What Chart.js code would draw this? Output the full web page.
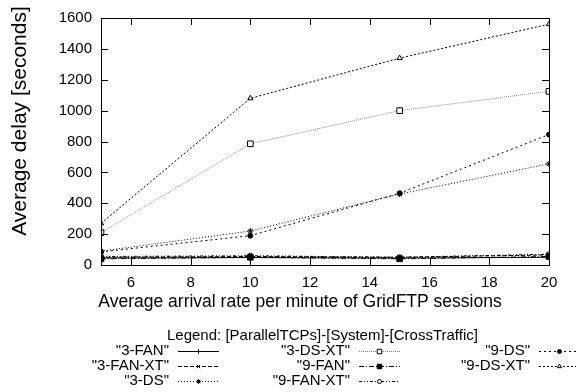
<!DOCTYPE html>
<html lang="en">

<head>
    <meta charset="UTF-8">
    <title>GridFTP delay</title>
    <script src="https://cdn.jsdelivr.net/npm/chart.js"></script>
    <style>
        body { margin: 0; background: #fff }
        #container { width: 576px; height: 392px }
    </style>
</head>

<body>
    <div id="container">
        <canvas id="mycanvas" width="576" height="392"></canvas>
    </div>
    <script>
        // data
        const rates = [5, 10, 15, 20]
        const xTicks = [6, 8, 10, 12, 14, 16, 18, 20]
        const yTicks = [0, 200, 400, 600, 800, 1000, 1200, 1400, 1600]

        const fan3 = [45, 48, 45, 50]
        const fan3xt = [50, 55, 50, 65]
        const ds3 = [90, 220, 460, 655]
        const ds3xt = [210, 785, 1000, 1125]
        const fan9 = [40, 50, 40, 55]
        const fan9xt = [55, 60, 50, 70]
        const ds9 = [85, 190, 465, 845]
        const ds9xt = [270, 1080, 1340, 1560]

        const FONT = "'Liberation Sans', Arial, sans-serif"

        // gnuplot-ish line types
        const series = [
            { label: '"3-FAN"', values: fan3, dash: [], point: 'cross', r: 3, fill: '#000', color: '#000', col: 0, row: 0 },
            { label: '"3-FAN-XT"', values: fan3xt, dash: [4, 2], point: 'crossRot', r: 3, fill: '#000', color: '#000', col: 0, row: 1 },
            { label: '"3-DS"', values: ds3, dash: [1, 2], point: 'star', r: 3, fill: '#000', color: '#000', col: 0, row: 2 },
            { label: '"3-DS-XT"', values: ds3xt, dash: [1, 1], point: 'rect', r: 4, fill: '#fff', color: '#888', col: 1, row: 0 },
            { label: '"9-FAN"', values: fan9, dash: [5, 2, 1, 2], point: 'rect', r: 4, fill: '#000', color: '#000', col: 1, row: 1 },
            { label: '"9-FAN-XT"', values: fan9xt, dash: [3, 2, 1, 2, 1, 2], point: 'circle', r: 2.5, fill: '#fff', color: '#000', col: 1, row: 2 },
            { label: '"9-DS"', values: ds9, dash: [2, 3], point: 'circle', r: 2.5, fill: '#000', color: '#000', col: 2, row: 0 },
            { label: '"9-DS-XT"', values: ds9xt, dash: [2, 2], point: 'triangle', r: 3, fill: '#fff', color: '#000', col: 2, row: 1 },
        ]

        // inward ticks on all four sides, frame and axis titles
        const frame = {
            id: 'frame',
            afterDatasetsDraw(chart) {
                const { ctx, chartArea: a, scales: { x, y } } = chart
                ctx.save()
                ctx.strokeStyle = '#000'
                ctx.lineWidth = 1
                ctx.setLineDash([])
                ctx.strokeRect(a.left + 0.5, a.top + 0.5, a.right - a.left, a.bottom - a.top)
                ctx.beginPath()
                xTicks.forEach(v => {
                    const px = Math.round(x.getPixelForValue(v)) + 0.5
                    ctx.moveTo(px, a.bottom); ctx.lineTo(px, a.bottom - 7)
                    ctx.moveTo(px, a.top); ctx.lineTo(px, a.top + 7)
                })
                yTicks.forEach(v => {
                    const py = Math.round(y.getPixelForValue(v)) + 0.5
                    ctx.moveTo(a.left, py); ctx.lineTo(a.left + 7, py)
                    ctx.moveTo(a.right, py); ctx.lineTo(a.right - 7, py)
                })
                ctx.stroke()

                ctx.fillStyle = '#000'
                ctx.textBaseline = 'middle'
                ctx.textAlign = 'center'
                ctx.font = '17.5px ' + FONT
                ctx.fillText('Average arrival rate per minute of GridFTP sessions', 300, 302)
                ctx.translate(20, 121)
                ctx.rotate(-Math.PI / 2)
                ctx.font = '21px ' + FONT
                ctx.fillText('Average delay [seconds]', 0, 0)
                ctx.restore()
            }
        }

        // gnuplot style legend below the plot
        const gnuLegend = {
            id: 'gnuLegend',
            afterDraw(chart) {
                const ctx = chart.ctx
                const textRight = [169, 350, 530]
                const rowY = [351, 366, 381]
                ctx.save()
                ctx.fillStyle = '#000'
                ctx.font = '15px ' + FONT
                ctx.textBaseline = 'middle'
                ctx.textAlign = 'left'
                ctx.fillText('Legend: [ParallelTCPs]-[System]-[CrossTraffic]', 167, 336)
                ctx.textAlign = 'right'
                chart.data.datasets.forEach((ds, i) => {
                    const s = series[i]
                    const tx = textRight[s.col], ty = rowY[s.row]
                    ctx.fillStyle = '#000'
                    ctx.fillText(s.label, tx, ty)
                    const x0 = tx + 9, x1 = tx + 50
                    ctx.strokeStyle = s.color
                    ctx.lineWidth = 1
                    ctx.setLineDash(s.dash)
                    ctx.beginPath()
                    ctx.moveTo(x0, ty + 0.5); ctx.lineTo(x1, ty + 0.5)
                    ctx.stroke()
                    ctx.setLineDash([])
                    ctx.strokeStyle = '#000'
                    ctx.fillStyle = s.fill
                    Chart.helpers.drawPoint(ctx, {
                        pointStyle: s.point, radius: s.r * 0.8, rotation: 0, borderWidth: 1
                    }, (x0 + x1) / 2, ty + 0.5)
                })
                ctx.restore()
            }
        }

        new Chart(document.getElementById('mycanvas'), {
            type: 'line',
            data: {
                datasets: series.map(s => ({
                    label: s.label,
                    data: rates.map((r, i) => ({ x: r, y: s.values[i] })),
                    borderColor: s.color,
                    borderWidth: 1,
                    borderDash: s.dash,
                    pointStyle: s.point,
                    pointRadius: s.r,
                    pointBorderColor: '#000',
                    pointBackgroundColor: s.fill,
                    pointBorderWidth: 1,
                    tension: 0
                }))
            },
            options: {
                responsive: false,
                animation: false,
                layout: { padding: { top: 14, right: 27, bottom: 0, left: 0 } },
                plugins: { legend: { display: false }, tooltip: { enabled: false } },
                scales: {
                    x: {
                        type: 'linear',
                        min: 5, max: 20,
                        afterBuildTicks: s => { s.ticks = xTicks.map(v => ({ value: v })) },
                        afterFit: s => { s.height = 127 },
                        grid: { display: false, drawTicks: false },
                        border: { display: false },
                        ticks: { color: '#000', font: { family: FONT, size: 15 }, padding: 9, maxRotation: 0 }
                    },
                    y: {
                        min: 0, max: 1600,
                        afterBuildTicks: s => { s.ticks = yTicks.map(v => ({ value: v })) },
                        afterFit: s => { s.width = 101 },
                        grid: { display: false, drawTicks: false },
                        border: { display: false },
                        ticks: {
                            color: '#000', font: { family: FONT, size: 15 }, padding: 9,
                            callback: v => String(v)
                        }
                    }
                }
            },
            plugins: [frame, gnuLegend]
        })
    </script>
</body>

</html>
